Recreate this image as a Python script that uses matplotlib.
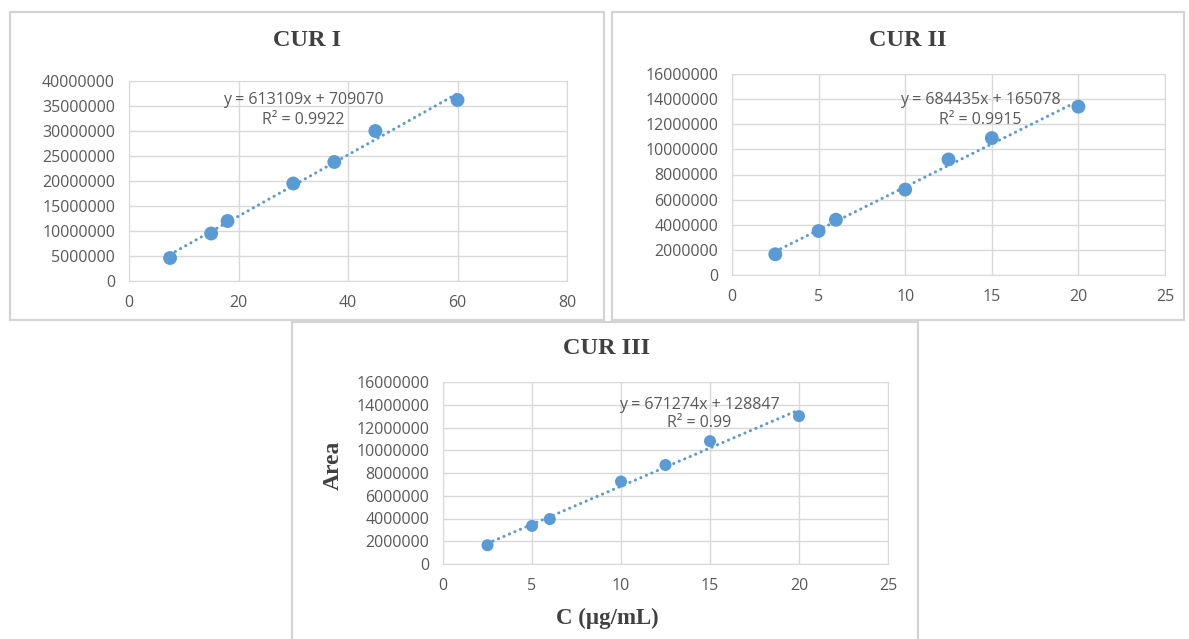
import matplotlib
matplotlib.use('Agg')
import matplotlib.pyplot as plt
from matplotlib.patches import Rectangle
import numpy as np

# CUR I calibration data
conc_1 = [7.5, 15, 18, 30, 37.5, 45, 60]
area_1 = [4600000, 9500000, 12000000, 19500000, 23800000, 30000000, 36200000]
slope_1, icept_1 = 613109, 709070
eq_1 = 'y = 613109x + 709070'
r2_1 = 'R² = 0.9922'

# CUR II calibration data
conc_2 = [2.5, 5, 6, 10, 12.5, 15, 20]
area_2 = [1650000, 3500000, 4400000, 6800000, 9200000, 10900000, 13400000]
slope_2, icept_2 = 684435, 165078
eq_2 = 'y = 684435x + 165078'
r2_2 = 'R² = 0.9915'

# CUR III calibration data
conc_3 = [2.5, 5, 6, 10, 12.5, 15, 20]
area_3 = [1650000, 3350000, 3950000, 7250000, 8700000, 10800000, 13000000]
slope_3, icept_3 = 671274, 128847
eq_3 = 'y = 671274x + 128847'
r2_3 = 'R² = 0.99'

blue = '#5B9BD5'
grid_c = '#D9D9D9'
txt_c = '#595959'
sans = ['Open Sans', 'DejaVu Sans']
serif = ['Liberation Serif', 'DejaVu Serif']

W, H = 1189, 639
fig = plt.figure(figsize=(W / 100, H / 100), dpi=100)


def px_box(x0, y0, x1, y1):
    # pixel box (top-left origin) -> figure fraction rect
    return [x0 / W, 1 - y1 / H, (x1 - x0) / W, (y1 - y0) / H]


# panel borders
for (x0, y0, x1, y1) in [(10, 12, 604, 320), (612, 12, 1184, 320), (292, 322, 918, 645)]:
    fig.patches.append(Rectangle((x0 / W, 1 - y1 / H), (x1 - x0) / W, (y1 - y0) / H,
                                 transform=fig.transFigure, fill=False,
                                 edgecolor='#D4D4D4', lw=1.6))


def calib_panel(rect, x, y, slope, icept, eq, r2, xmax, xstep, ymax, ystep,
                eq_pos, msize):
    ax = fig.add_axes(rect)
    xs = np.array([min(x), max(x)])
    # dotted linear trendline
    ax.plot(xs, slope * xs + icept, color=blue, lw=2.2, linestyle=(0, (0.05, 1.9)),
            dash_capstyle='round', zorder=2)
    ax.scatter(x, y, s=msize, color=blue, zorder=3, edgecolors='none')
    ax.set_xlim(0, xmax)
    ax.set_ylim(0, ymax)
    ax.set_xticks(np.arange(0, xmax + 1, xstep))
    ax.set_yticks(np.arange(0, ymax + 1, ystep))
    ax.ticklabel_format(axis='y', style='plain', useOffset=False)
    ax.grid(True, color=grid_c, lw=1)
    ax.set_axisbelow(True)
    for s in ax.spines.values():
        s.set_color(grid_c)
    ax.tick_params(length=0, colors=txt_c, labelsize=11.5, pad=10)
    for lab in ax.get_xticklabels() + ax.get_yticklabels():
        lab.set_family(sans)
    ax.text(eq_pos[0], eq_pos[1], eq, transform=ax.transAxes, ha='center', va='center',
            color=txt_c, fontsize=11.5, family=sans)
    ax.text(eq_pos[0], eq_pos[1] - 0.1, r2, transform=ax.transAxes, ha='center', va='center',
            color=txt_c, fontsize=11.5, family=sans)
    return ax


ax1 = calib_panel(px_box(129, 81, 567, 281), conc_1, area_1, slope_1, icept_1, eq_1, r2_1,
                  80, 20, 40000000, 5000000, (0.397, 0.905), 100)
ax2 = calib_panel(px_box(732, 74, 1165, 275), conc_2, area_2, slope_2, icept_2, eq_2, r2_2,
                  25, 5, 16000000, 2000000, (0.573, 0.871), 100)
ax3 = calib_panel(px_box(443, 382, 888, 564), conc_3, area_3, slope_3, icept_3, eq_3, r2_3,
                  25, 5, 16000000, 2000000, (0.575, 0.874), 75)

# titles
for label, (px, py) in [('CUR I', (307, 40)), ('CUR II', (908, 40)), ('CUR III', (607, 349))]:
    fig.text(px / W, 1 - py / H, label, ha='center', va='center', fontsize=17.5,
             fontweight='bold', family=serif, color='#404040')

# axis titles on the bottom panel
fig.text(333 / W, 1 - 465 / H, 'Area', rotation=90, ha='center', va='center',
         fontsize=17, fontweight='bold', family=serif, color='#404040')
fig.text(607 / W, 1 - 618 / H, 'C (µg/mL)', ha='center', va='center',
         fontsize=16.5, fontweight='bold', family=serif, color='#404040')

fig.savefig('out.png', dpi=100)
